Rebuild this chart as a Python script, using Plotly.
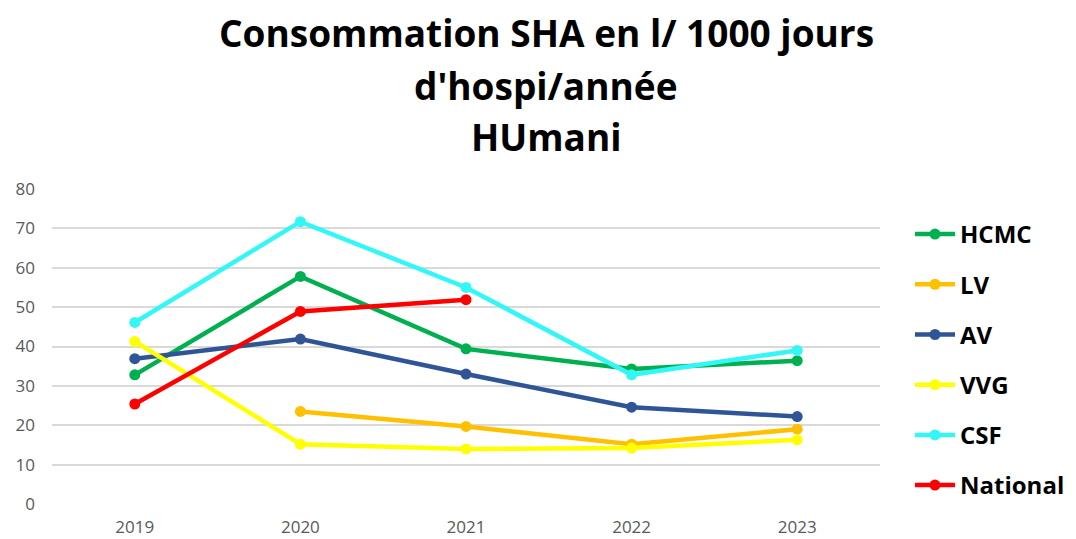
import plotly.graph_objects as go

years = ["2019", "2020", "2021", "2022", "2023"]
hcmc = [32.8, 57.8, 39.4, 34.3, 36.4]
lv = [None, 23.5, 19.7, 15.2, 19.0]
av = [36.9, 41.9, 33.0, 24.6, 22.2]
vvg = [41.3, 15.2, 14.0, 14.2, 16.3]
csf = [46.1, 71.7, 55.0, 32.8, 39.0]
national = [25.4, 48.9, 51.9, None, None]

title_lines = ["Consommation SHA en l/ 1000 jours", "d'hospi/année", "HUmani"]

series = [
    ("HCMC", hcmc, "#00B050"),
    ("LV", lv, "#FFC000"),
    ("AV", av, "#2F5597"),
    ("VVG", vvg, "#FFFF00"),
    ("CSF", csf, "#33F6F6"),
    ("National", national, "#FF0000"),
]

fig = go.Figure()
for name, vals, color in series:
    fig.add_trace(go.Scatter(
        x=years, y=vals, name=name, mode="lines+markers",
        line=dict(color=color, width=4.5),
        marker=dict(color=color, size=11),
        legendgroup=name,
    ))

# plot area: top at 189 px, height 315 px -> paper y = 1 + (189 - ypix)/315
for line, ypix in zip(title_lines, [32, 85, 137]):
    fig.add_annotation(
        text=line, xref="paper", yref="paper", x=0.597, y=1 + (189 - ypix) / 315,
        xanchor="center", yanchor="middle", showarrow=False,
        font=dict(family="Open Sans", size=37, color="black", weight="bold"),
    )

fig.update_layout(
    width=1076, height=539,
    paper_bgcolor="white", plot_bgcolor="white",
    margin=dict(l=52, r=196, t=189, b=35),
    font=dict(family="Open Sans", color="#595959"),
    xaxis=dict(
        type="category", range=[-0.5, 4.5], showgrid=False, showline=False,
        ticks="", tickfont=dict(size=17, color="#595959"), automargin=False,
        ticklabelstandoff=11,
    ),
    yaxis=dict(
        range=[0, 80], dtick=10, showgrid=True, gridcolor="#D9D9D9", gridwidth=1.5,
        zeroline=False, showline=False, ticks="", tickfont=dict(size=17, color="#595959"),
        ticklabelstandoff=16, automargin=False,
    ),
    legend=dict(
        xref="container", yref="container",
        x=910 / 1076, xanchor="left", y=1 - 212 / 539, yanchor="top",
        font=dict(family="Open Sans", size=24, color="black", weight="bold"),
        tracegroupgap=16, itemwidth=40, maxheight=420,
    ),
)

fig.write_html(
    "out.html",
    config={"responsive": False, "displayModeBar": False},
    post_script="document.body.style.margin='0';document.body.style.overflow='hidden';",
)
